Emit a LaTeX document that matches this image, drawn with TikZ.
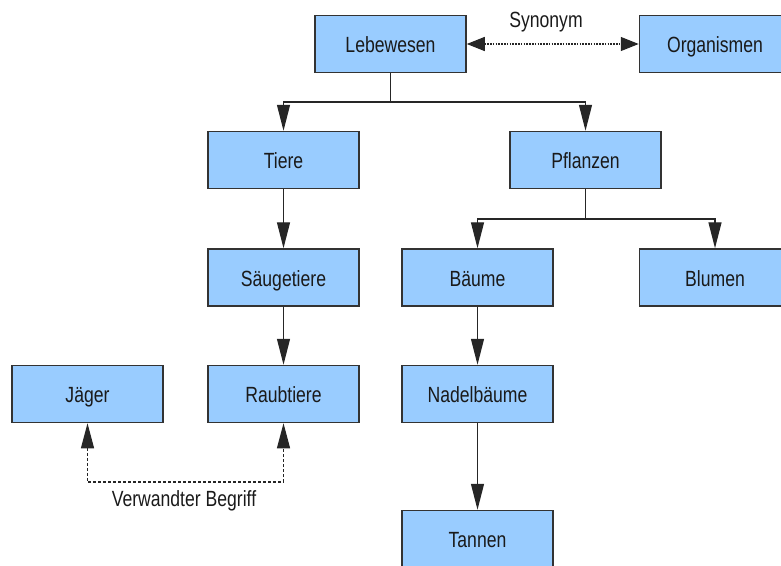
\documentclass[tikz,border=0pt]{standalone}
\usepackage{fontspec}
\setmainfont{Liberation Sans}[FakeStretch=0.8]
\usetikzlibrary{arrows.meta}
\definecolor{boxfill}{HTML}{99CCFF}
\definecolor{boxline}{HTML}{333333}
\definecolor{txt}{HTML}{1A1A1A}
\begin{document}
\begin{tikzpicture}[x=1pt,y=-1pt,
  box/.style={draw=boxline, line width=1.5pt, fill=boxfill, minimum width=151pt, minimum height=57pt, inner sep=0pt, text height=18pt, text depth=1pt, text=txt, font=\fontsize{22}{24}\selectfont},
  lbl/.style={text=txt, inner sep=0pt, font=\fontsize{22}{24}\selectfont},
  conn/.style={draw=black!85, line width=1.3pt},
  arr/.style={conn, -{Triangle[length=26pt,width=13pt]}},
  synarr/.style={conn, {Triangle[length=18pt,width=14pt]}-{Triangle[length=18pt,width=14pt]}, dash pattern=on 1.6pt off 1.2pt},
  relarr/.style={conn, line width=1.1pt, {Triangle[length=25pt,width=13pt]}-{Triangle[length=25pt,width=13pt]}, dash pattern=on 3pt off 2pt}]
\useasboundingbox (0,0) rectangle (781,565);
\node[box] (leb) at (390.5,44) {Lebewesen};
\node[box] (org) at (715,44) {Organismen};
\node[box] (tiere) at (283.5,160) {Tiere};
\node[box] (pfl) at (585.5,160) {Pflanzen};
\node[box] (saeug) at (283.5,277.5) {Säugetiere};
\node[box] (baeume) at (477.5,277.5) {Bäume};
\node[box] (blumen) at (715,277.5) {Blumen};
\node[box] (jaeger) at (87.5,394) {Jäger};
\node[box] (raub) at (283.5,394) {Raubtiere};
\node[box] (nadel) at (477.5,394) {Nadelbäume};
\node[box] (tannen) at (477.5,539) {Tannen};
% labels
\node[lbl] (syn) at (546,22) {Synonym};
\node[lbl] (vb) at (184,501) {Verwandter Begriff};
% tree connectors
\coordinate (j1) at (390.5,102);
\coordinate (j2) at (585.5,219);
\coordinate (rel) at (0,482);
\draw[conn] (leb.south) -- (j1);
\draw[arr] (j1) -| (tiere.north);
\draw[arr] (j1) -| (pfl.north);
\draw[conn] (pfl.south) -- (j2);
\draw[arr] (j2) -| (baeume.north);
\draw[arr] (j2) -| (blumen.north);
\draw[arr] (tiere.south) -- (saeug.north);
\draw[arr] (saeug.south) -- (raub.north);
\draw[arr] (baeume.south) -- (nadel.north);
\draw[arr] (nadel.south) -- (tannen.north);
% relations
\draw[synarr] (leb.east) -- (org.west);
\draw[relarr] (jaeger.south) -- (jaeger.south |- rel) -| (raub.south);
\end{tikzpicture}
\end{document}
